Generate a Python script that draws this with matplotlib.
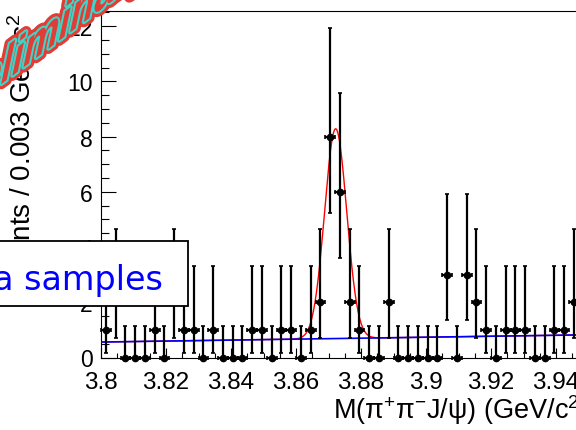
import matplotlib
matplotlib.use('Agg')
import matplotlib.pyplot as plt
import matplotlib.patheffects as pe
from matplotlib.patches import Rectangle
from matplotlib.transforms import Affine2D
from matplotlib.ticker import MultipleLocator, FuncFormatter
import numpy as np

# histogram: M(pi+ pi- J/psi), bins of 0.003 GeV/c^2 starting at 3.8
bin_lo = 3.8
bin_w = 0.003
counts = [1, 2, 0, 0, 0, 1, 0, 2, 1, 1, 0, 1, 0, 0, 0, 1, 1, 0, 1, 1,
          0, 1, 2, 8, 6, 2, 1, 0, 0, 2, 0, 0, 0, 0, 0, 3, 0, 3, 2, 1,
          0, 1, 1, 1, 0, 0, 1, 1, 2]
# asymmetric errors (down, up) for each count
err_down = {0: 0.0, 1: 0.83, 2: 1.29, 3: 1.63, 6: 2.38, 8: 2.77}
err_up = {0: 1.14, 1: 2.30, 2: 2.64, 3: 2.92, 6: 3.58, 8: 3.94}

# fit result: gaussian signal + linear background
sig_amp, sig_mean, sig_width = 7.6, 3.8722, 0.0034
bkg_p0, bkg_p1 = 0.56, 1.75   # bkg = p0 + p1*(m - 3.8)

xticks = [3.8, 3.82, 3.84, 3.86, 3.88, 3.9, 3.92, 3.94]
yticks = [0, 2, 4, 6, 8, 10, 12]


class Shear(pe.AbstractPathEffect):
    """squeeze + slant the glyphs like a WordArt stamp, then run inner effects"""
    def __init__(self, pivot, sx, xs, ys, inner):
        super().__init__()
        self.t = (Affine2D().translate(-pivot[0], -pivot[1]).scale(sx, 1)
                  .skew(xs, ys).translate(*pivot))
        self.inner = inner

    def draw_path(self, renderer, gc, tpath, affine, rgbFace=None):
        for e in self.inner:
            e.draw_path(renderer, gc, tpath, affine + self.t, rgbFace)


plt.rcParams['font.family'] = ['Liberation Sans', 'DejaVu Sans']
plt.rcParams['mathtext.default'] = 'regular'

W, H = 576, 431
fig = plt.figure(figsize=(W/100, H/100), dpi=100, facecolor='white')
ax = fig.add_axes([101/W, (H-358.5)/H, (588.5-101)/W, (358.5-12)/H])

counts = np.array(counts)
x = bin_lo + bin_w*(np.arange(len(counts)) + 0.5)
lo = np.array([err_down[c] for c in counts])
hi = np.array([err_up[c] for c in counts])

m = np.linspace(3.8, 3.95, 600)
bkg = bkg_p0 + bkg_p1*(m - 3.8)
tot = bkg + sig_amp*np.exp(-0.5*((m - sig_mean)/sig_width)**2)
ax.plot(m, tot, color='red', lw=1.0, zorder=2)
ax.plot(m, bkg, color='blue', lw=1.2, zorder=3)

ax.errorbar(x, counts, yerr=[lo, hi], xerr=bin_w/2, fmt='o', color='black',
            ms=4.5, elinewidth=1.6, capsize=1.5, capthick=1.2, zorder=4,
            clip_on=False)

ax.set_xlim(3.8, 3.95)
ax.set_ylim(0, 12.55)
ax.set_xticks(xticks)
ax.set_yticks(yticks)
ax.xaxis.set_minor_locator(MultipleLocator(0.005))
ax.yaxis.set_minor_locator(MultipleLocator(0.5))
ax.xaxis.set_major_formatter(FuncFormatter(lambda v, p: '%g' % round(v, 3)))
ax.tick_params(axis='both', which='both', direction='in', top=False, right=False,
               width=0.8)
ax.tick_params(axis='y', which='major', length=10.8, pad=6, labelsize=16.5)
ax.tick_params(axis='y', which='minor', length=5.8)
ax.tick_params(axis='x', which='major', length=7.2, pad=10, labelsize=17.5)
ax.tick_params(axis='x', which='minor', length=3.6)
for s in ax.spines.values():
    s.set_linewidth(0.8)

fig.text(23/W, 1 - 14/H, 'Events / 0.003 GeV/c$^{2}$', rotation=90,
         ha='center', va='top', fontsize=20, zorder=1)
fig.text(589/W, 12/H, 'M(π$^{+}$π$^{-}$J/ψ) (GeV/c$^{2}$)', ha='right',
         va='baseline', fontsize=19.5)

# legend-like box, cut off at the left edge
fig.add_artist(Rectangle((-10/W, (H-307)/H), 198/W, 65/H, transform=fig.transFigure,
                         facecolor='white', edgecolor='black', lw=1.3, zorder=5))
fig.text(163/W, (H-290)/H, 'Data samples', ha='right', va='baseline',
         fontsize=24, color='blue', family='DejaVu Sans', zorder=6)

# preliminary stamp, baseline rising to the upper right
x0, y0 = -64, 134
stamp_fx = [pe.SimplePatchShadow(offset=(2, -2), alpha=0.25),
            pe.Stroke(linewidth=7.5, foreground='#e23c36'),
            pe.Stroke(linewidth=3, foreground='#3cd6c8'),
            pe.Normal()]
fig.text(x0/W, (H-y0)/H, 'Preliminary', ha='left', va='baseline',
         fontsize=36, fontweight='bold', fontstyle='italic',
         family='Liberation Sans', color='#e23c36', zorder=10,
         path_effects=[Shear((x0, H-y0), 0.8, 0.08, np.arctan(0.75), stamp_fx)])

fig.savefig('out.png', dpi=100)
